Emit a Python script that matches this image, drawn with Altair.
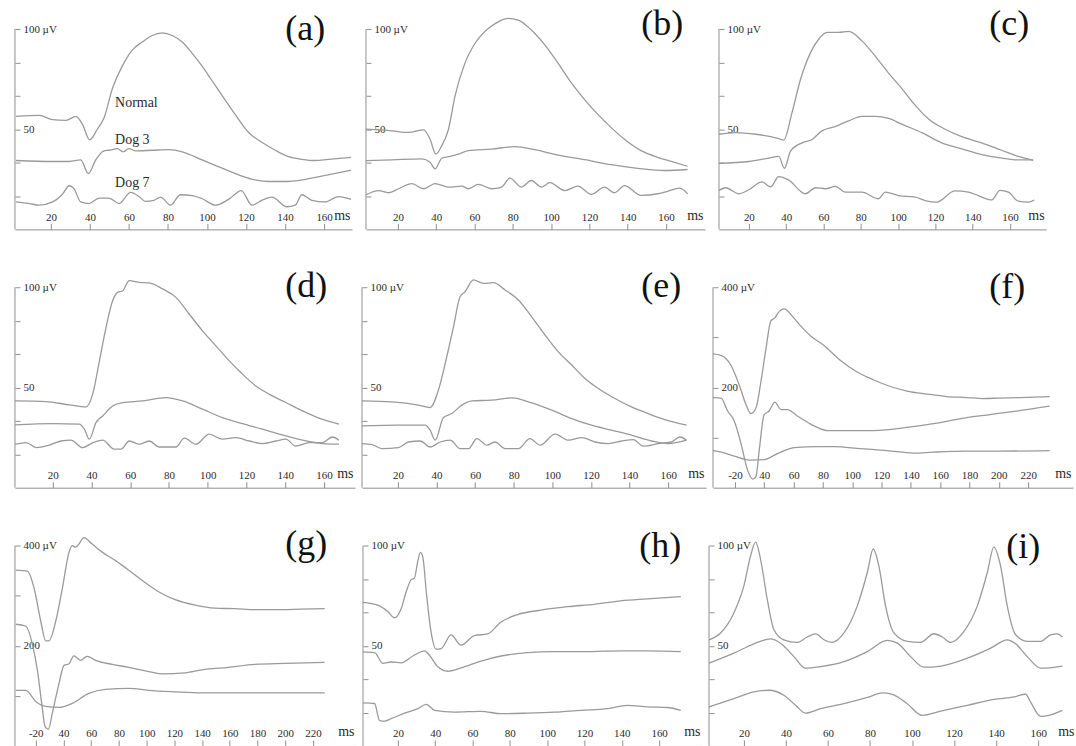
import altair as alt
import pandas as pd

# ---------------- data: (ms, µV) ----------------
a_normal = [(2.1,56.4),(14,56.9),(20.9,54.8),(27.7,54.4),(32.8,56.4),(36.2,52.4),(39.9,44.7),(43.8,50),(47.2,55.6),
            (51.5,70.2),(56.6,81.5),(61.7,89.5),(66.8,93.5),(71.9,96.8),(77.1,98.1),(82.2,96.8),(87.3,93.5),(92.4,87.9),
            (97.5,81.5),(102.6,74.2),(107.7,66.9),(114.5,57.3),(121.3,48.4),(128.1,43.5),(135,39.5),(141.8,36.3),
            (148.6,35),(155.4,34.4),(162.2,35),(173.8,36)]
a_dog3 = [(2.1,34.4),(20.9,33.9),(29.4,33.9),(35.3,34.7),(39.2,27.9),(43,34.7),(47.2,39.2),(49.8,39.5),(54.1,40.3),
          (57,38.7),(60,40.3),(63.4,39.2),(71.9,39.5),(80.5,39.8),(87.3,38.7),(97.5,34.7),(107.7,30.6),(117.9,26.6),
          (124.7,24.7),(131.5,23.9),(140,23.9),(148.6,24.7),(158.8,26.6),(173.8,29.5)]
a_dog7 = [(2.1,13.7),(9,12.9),(14,12.1),(20.9,13.7),(26,17.7),(29.4,21.8),(31.9,20.2),(35.3,13.7),(39.6,12.9),
          (44.7,15.6),(49.8,15.6),(54.9,12.9),(60.9,18.5),(65.1,16.4),(68.5,14),(72.8,14.5),(76.2,16.1),(81.3,12.1),
          (86.4,17.3),(92.4,16.9),(97.5,15.3),(104.3,12.1),(111.1,15),(117.6,19.4),(123,12.1),(128.1,14.5),
          (133.3,16.1),(140.9,11.3),(145.2,12.1),(148.6,17.3),(153.7,14.5),(160.5,13.7),(167.3,16.4),(173.8,15)]

b_normal = [(3.3,50),(16.9,49.2),(25.6,48.4),(33.4,49.7),(36.8,45),(39.8,37.6),(42.9,41.8),(46.4,50),(49.8,66.5),
            (55,83),(60.3,92.9),(67.2,100.3),(72.4,103.6),(77.6,105.3),(82.8,104.5),(89.7,99.5),(96.7,92.1),
            (103.6,83),(110.6,73.1),(117.5,64.8),(124.4,57.4),(131.4,50.8),(138.3,45),(147,39.3),(155.7,36),
            (164.4,33.5),(171.3,31.5)]
b_dog3 = [(3.3,34.3),(16.9,34.7),(32.5,35.2),(36.8,33.5),(39.4,30.2),(42.9,35.5),(46.4,36.3),(51.6,37.6),(56.8,39.3),
          (68.9,40.1),(81.1,41.3),(91.5,39.8),(103.6,37.1),(117.5,34.8),(131.4,32.3),(145.3,30.5),(159.1,29.4),
          (171.3,29.9)]
b_dog7 = [(3.3,17.3),(9.9,19.4),(15.1,18.3),(20.3,20.3),(27.3,22.8),(33.4,20.3),(39.4,22.8),(46.4,21.1),(53.3,21.6),
          (56.8,20.3),(62,22.5),(68.9,20.3),(74.1,21.1),(78.5,25.6),(84.5,21.1),(89.7,24.4),(94.9,21.1),(99.3,23.3),
          (107.1,19.4),(114,21.6),(121,17.5),(127.9,21.1),(133.1,18.3),(138.3,21.9),(147,17),(155.7,17.8),
          (160.9,19),(167,20.6),(171.3,17.8)]

c_normal = [(4,47.5),(12.9,48.3),(23.6,47.5),(36,45.3),(38.7,44.6),(43.2,58.5),(47.6,74.6),(53,88.1),(57.4,94.9),
            (61.9,98.3),(68.1,98.3),(73.5,98.8),(80.6,94.1),(87.8,86.4),(94.9,78),(102,70.3),(109.2,61.9),
            (116.3,55.1),(125.2,50),(134.1,46.3),(144.8,43.2),(155.5,39.5),(164.4,36.4),(172.4,34.4)]
c_dog3 = [(4,33),(20,33.9),(30.7,35.6),(36,36.4),(39.1,30.5),(42.3,39),(48.5,43.2),(53.9,44.9),(59.2,49.2),
          (66.4,51.4),(73.5,54.2),(80.6,56.4),(87.8,56.4),(94.9,55.4),(102,52.5),(112.7,48.3),(123.4,43.2),
          (134.1,40.2),(144.8,37.3),(155.5,35.6),(164.4,34.7),(172.4,34.7)]
c_dog7 = [(4,19.5),(7.5,20.8),(14.7,17.8),(20,19.8),(27.1,23.7),(31.6,21.2),(36,26.3),(41.4,24.6),(50.3,17.8),
          (55.7,20.8),(61,20.3),(66.4,21.5),(71.7,18.6),(80.6,18.6),(89.5,15.3),(93.1,18.6),(100.2,16.9),
          (109.2,16.1),(114.5,14.4),(120.7,13.6),(130.5,19.2),(137.7,18.6),(143,16.9),(150.2,14.7),(154.6,19.5),
          (159.1,18.6),(164.4,14.1),(169.8,13.6),(173,14.7)]

d_normal = [(0.6,43.3),(16.6,43),(28.6,41.3),(37.2,40.3),(40.6,46.7),(44.1,63.3),(47.5,80),(50.9,93.3),(53.5,97.5),
            (56.1,98.3),(59.5,103.3),(64.7,102.5),(69.8,102.2),(76.7,99.2),(83.6,95),(90.4,86.7),(97.3,78.3),
            (104.2,70.8),(111.1,63.3),(117.9,56.7),(124.8,50.8),(131.7,46.7),(140.3,42.5),(148.9,38.3),
            (157.4,34.7),(167.7,31.7)]
d_dog3 = [(0.6,31.3),(20,32),(33.7,31.7),(36.3,29.2),(38.9,24.2),(42.3,32.5),(45.8,35.8),(50.9,40.8),(56.1,42.5),
          (66.4,43.3),(78.4,45),(87,43.3),(97.3,39.2),(107.6,35),(117.9,32),(128.2,29.2),(138.5,26.3),(148.9,23.7),
          (159.2,22),(167.7,21.7)]
d_dog7 = [(0.6,21.7),(6.3,22.5),(11.4,20),(18.3,21.3),(24.3,23.3),(29.4,23.7),(35.5,20),(39.8,22),(45.8,23.7),
          (51.8,19.2),(55.2,19.2),(59.5,23.3),(64.7,21.7),(69.8,23.3),(75,20.3),(83.6,20.3),(87.9,24.7),(93.9,21.7),
          (100.7,26.7),(107.6,24.2),(114.5,25),(121.4,23.3),(128.2,22),(135.1,23.3),(140.3,24.2),(145.4,20.8),
          (152.3,22.5),(159.2,22.5),(164.3,25.3),(167.7,23.7)]

e_normal = [(1.4,43.3),(16.9,42.8),(30.7,41.2),(36.7,40),(41,48.7),(45.3,65.3),(48.8,80.3),(52.2,95.3),(54.8,97.8),
            (59.1,103.7),(64.3,102),(69.5,102.3),(75.5,98.7),(82.4,93.7),(89.3,85.3),(96.2,76.2),(103.1,67.8),
            (110,61.2),(116.9,54.5),(123.8,49.5),(132.4,44.5),(141,40.3),(149.6,37),(158.3,34),(169.5,31.2)]
e_dog3 = [(1.4,30.8),(20.3,31.2),(34.1,31.2),(36.7,28.7),(39.3,23.7),(43.6,35),(47.9,37),(53.1,41.2),(58.3,43.3),
          (68.6,43.7),(79,44.8),(89.3,42.3),(99.7,38.7),(110,34.5),(120.3,31.2),(130.7,28.7),(141,26.2),
          (151.4,23.3),(160,22),(169.5,23.7)]
e_dog7 = [(1.4,22),(6.6,21.5),(11.7,19.5),(20.3,20),(25.5,22.8),(31.6,23.3),(36.7,20.3),(41.9,22.8),(47.1,23.7),
          (52.2,19.5),(56.6,19.5),(60.9,24.5),(66,21.2),(70.3,22.8),(75.5,19.5),(82.4,19.5),(88.4,24.5),(93.6,21.2),
          (101.4,26.7),(108.3,23.7),(115.2,25),(122.1,22.8),(129,22),(135.9,23.3),(141.9,24),(147.1,20.7),
          (154.8,22),(161.7,22.8),(166,25.3),(169.5,23.7)]

f_normal = [(5,267),(10.5,264),(17.3,244),(22.9,205),(27.5,166),(30.9,148),(34.3,159),(37.7,212),(41.1,277),
            (44.5,333),(47.2,339),(49.4,349),(53.5,357),(59.2,342),(64.8,323),(71.6,303),(80.7,284),(92,254),
            (103.3,231),(114.7,215),(126,202),(137.3,193),(150.9,187),(164.5,182),(178.1,180),(189.4,178),
            (200.7,179),(214.3,180),(234.7,182)]
f_dog3 = [(5,180),(10.5,179),(15,153),(19.5,133),(24.1,88),(28.6,35),(32,17),(34.3,22),(36.5,74),(39.9,146),
          (43.3,153),(47.2,171),(51.3,156),(55.8,156),(62.6,143),(71.6,127),(83,114),(94.3,114),(110.1,114),
          (128.3,117),(144.1,123),(160,130),(178.1,140),(193.9,146),(212.1,153),(234.7,163)]
f_dog7 = [(5,74),(10.5,71),(19.5,63),(30.9,55),(39.9,56),(49,68),(60.3,80),(76.2,82),(87.5,82),(105.6,78),
          (123.7,74),(141.9,69),(155.4,71),(178.1,73),(200.7,73),(234.7,74)]

g_normal = [(5.6,351),(14,349),(18.8,315),(23.6,249),(27.2,210),(29.6,210),(34.4,249),(39.2,315),(44,387),(46.3,400),
            (48.7,397),(51.1,403),(54.7,416),(60.7,403),(67.9,387),(77.5,370),(87.1,351),(96.6,331),(108.6,308),
            (120.6,292),(135,281),(149.3,275),(163.7,274),(178.1,272),(192.4,272),(211.6,273),(228.4,274)]
g_dog3 = [(5.6,243),(12.8,239),(17.6,203),(21.2,151),(24.3,85),(26.7,39),(29.1,33),(32,66),(36.8,125),(40.4,161),
          (44,164),(47.5,180),(52.3,171),(57.1,179),(63.1,171),(75.1,163),(87.1,157),(99,150),(111,144),
          (127.8,146),(139.8,152),(158.9,157),(178.1,163),(199.6,165),(228.4,167)]
g_dog7 = [(5.6,111),(12.8,111),(20,89),(27.2,79),(36.8,77),(46.3,85),(58.3,105),(70.3,113),(87.1,115),(101.4,111),
          (120.6,108),(139.8,106),(163.7,106),(187.7,106),(228.4,106)]

h_normal = [(1.3,71.7),(9.3,70.3),(14.7,67),(18.2,63.9),(21.8,68.6),(24.5,77.1),(27.1,83),(28.9,83.9),(30.7,92.4),
            (32.1,96.6),(33.4,94.1),(35.2,77.1),(37.8,56.8),(40.5,48.3),(43.2,48.6),(48.5,55.4),(53.9,50.3),
            (61,55.1),(68.1,55.9),(75.3,61.9),(84.2,65.6),(96.7,67.8),(110.9,69.5),(125.2,70.7),(139.5,72.4),
            (153.7,73.4),(171.6,74.6)]
h_dog3 = [(1.3,47),(7.5,46.6),(12,41.2),(16.4,41.9),(21.8,41.5),(28,44.9),(34.3,47.5),(36.9,45.3),(41.4,39.5),
          (46.7,37.3),(53.9,39),(64.6,42.4),(75.3,44.9),(89.5,46.6),(103.8,47.1),(121.6,47.1),(139.5,47.5),
          (153.7,47.5),(171.6,47.1)]
h_dog7 = [(1.3,21.5),(7.5,21.2),(10.2,12.7),(12.9,12.4),(16.4,13.6),(23.6,16.4),(30.7,18.6),(35.2,20.8),(39.6,17.8),
          (50.3,16.9),(64.6,17.3),(75.3,16.1),(89.5,16.4),(103.8,16.9),(118.1,17.8),(132.3,18.6),(143,20.3),
          (153.7,19.5),(164.4,19.2),(171.6,17.8)]

i_normal = [(3.4,53),(8.9,56.4),(15.2,66.4),(20,79.9),(23.2,95),(25.6,101.7),(27.9,93.3),(31.1,73.2),(34.3,58),
            (39,53),(45.4,51.7),(50.1,54.4),(54.1,55.9),(58.1,53),(62,51.7),(67.6,56.4),(73.9,69.8),(78.7,86.6),
            (81.5,98.3),(84.2,89.9),(87.4,69.8),(91.4,56.4),(97.7,52.2),(104.1,51.7),(110.4,56),(114.4,54.4),
            (118.3,51.7),(124.7,57.2),(131,69.8),(135.8,86.6),(138.9,99.2),(142.1,89.9),(145.3,69.8),(149.3,55.5),
            (154.8,52.2),(161.2,52.2),(165.9,55.5),(169.1,55.9),(171.5,54.4)]
i_dog3 = [(3.4,41.3),(15.2,46.3),(24.8,51),(32.7,53.4),(37.4,51.3),(43.8,44.6),(49.3,38.8),(56.5,39.6),(67.6,42.1),
          (78.7,47.1),(88.2,52.7),(93,51.3),(99.3,44.6),(105.6,39.3),(113.6,39.9),(126.3,43.8),(137.4,48.8),
          (145.3,53),(149.3,51),(154.8,44.6),(161.2,38.8),(171.5,39.9)]
i_dog7 = [(3.4,19.5),(15.2,23.6),(24.8,27),(31.9,27.8),(39,25.3),(44.6,20.3),(49.3,16.4),(56.5,18.6),(67.6,21.1),
          (78.7,24.2),(85.8,26.5),(90.6,25.8),(97.7,21.1),(104.8,15.3),(113.6,17.4),(126.3,20.3),(139,23.2),
          (148.5,24.5),(154,25.8),(156.4,21.9),(161.2,14.8),(165.1,15.3),(171.5,17.8)]

trace_names = ["Normal", "Dog 3", "Dog 7"]
a_notes = [("Normal", 52.9, 62.9), ("Dog 3", 52.9, 44.4), ("Dog 7", 52.9, 23.4)]
ticks_short = [20, 40, 60, 80, 100, 120, 140, 160]
ticks_long = [20, 40, 60, 80, 100, 120, 140, 160, 180, 200, 220]

# ---------------- styling ----------------
LINE = "#9a9a9a"
AXC = "#8f8f8f"
TXT = "#2a2a2a"
SERIF = "Liberation Serif"
H = 221          # plot height: full scale = 1.1 x top tick value


def panel(tag, traces, xdom, width, top, xticks, tdx, tdy, neg20=False, notes=None):
    rows = []
    for name, pts in zip(trace_names, traces):
        for i, (t, v) in enumerate(pts):
            rows.append({"trace": name, "t": t, "v": v, "i": i})
    df = pd.DataFrame(rows)
    ymax = top * 1.1
    if top == 100:
        yvals = [50 / 3, 100 / 3, 50, 200 / 3, 250 / 3, 100]
        ylab = "datum.value > 99 ? '100 µV' : (abs(datum.value - 50) < 0.5 ? '50' : '')"
    else:
        yvals = [100, 200, 300, 400]
        ylab = "datum.value > 399 ? '400 µV' : (datum.value == 200 ? '200' : '')"
    xlab = "datum.value == 20 ? '-20' : datum.label" if neg20 else "datum.label"
    xsc = alt.Scale(domain=xdom, nice=False, zero=False)
    ysc = alt.Scale(domain=[0, ymax], nice=False, zero=False)
    xax = alt.Axis(orient="top", offset=-H, values=xticks, labelExpr=xlab, grid=False,
                   tickSize=6, labelPadding=1, labelFont=SERIF, labelFontSize=11, labelColor=TXT,
                   labelFlush=False, labelOverlap=False, domainColor=AXC, tickColor=AXC,
                   title="ms", titleX=width - 2, titleY=-7, titleAlign="right",
                   titleBaseline="bottom", titleAngle=0, titleFont=SERIF, titleFontSize=14,
                   titleFontWeight="normal", titleColor=TXT, titlePadding=0)
    yax = alt.Axis(orient="right", offset=-width, values=yvals, labelExpr=ylab, grid=False,
                   domain=False, tickSize=5, labelPadding=3, labelFont=SERIF, labelFontSize=11,
                   labelColor=TXT, labelFlush=False, labelOverlap=False, tickColor=AXC, title=None)
    x = alt.X("t:Q", scale=xsc, axis=xax)
    y = alt.Y("v:Q", scale=ysc, axis=yax)

    lines = alt.Chart(df).mark_line(color=LINE, strokeWidth=1.3, clip=False, interpolate="monotone").encode(
        x=x, y=y, detail="trace:N", order="i:Q")
    # left axis line from 0 to the top tick
    adf = pd.DataFrame({"t": [xdom[0]], "v": [0], "v2": [top]})
    yaxis_line = alt.Chart(adf).mark_rule(color=AXC, strokeWidth=1).encode(x=x, y=y, y2="v2:Q")
    # panel tag in the upper right corner
    tdf = pd.DataFrame({"t": [xdom[1]], "v": [ymax], "label": [tag]})
    tag_text = alt.Chart(tdf).mark_text(align="right", baseline="bottom", font=SERIF, fontSize=36,
                                        color="#111111", dx=tdx, dy=tdy).encode(x=x, y=y, text="label:N")
    layers = [lines, yaxis_line, tag_text]
    if notes:
        ndf = pd.DataFrame([{"label": l, "t": t, "v": v} for l, t, v in notes])
        layers.append(alt.Chart(ndf).mark_text(align="left", baseline="middle", font=SERIF, fontSize=14,
                                                color=TXT).encode(x=x, y=y, text="label:N"))
    return alt.layer(*layers).properties(width=width, height=H)


pa = panel("(a)", [a_normal, a_dog3, a_dog7], [1.6, 174.3], 338, 100, ticks_short, -27, 39, notes=a_notes)
pb = panel("(b)", [b_normal, b_dog3, b_dog7], [3.3, 180.4], 340, 100, ticks_short, -22, 34)
pc = panel("(c)", [c_normal, c_dog3, c_dog7], [4, 179.3], 328, 100, ticks_short, -17, 34)
pd_ = panel("(d)", [d_normal, d_dog3, d_dog7], [0.5, 176], 341, 100, ticks_short, -28, 38)
pe = panel("(e)", [e_normal, e_dog3, e_dog7], [1.4, 179.6], 345, 100, ticks_short, -25, 38)
pf = panel("(f)", [f_normal, f_dog3, f_dog7], [5, 250.6], 361, 400, ticks_long, -48, 39, neg20=True)
pg = panel("(g)", [g_normal, g_dog3, g_dog7], [5, 251], 342, 400, ticks_long, -29, 38, neg20=True)
ph = panel("(h)", [h_normal, h_dog3, h_dog7], [1.3, 183], 340, 100, ticks_short, -21, 40)
pi = panel("(i)", [i_normal, i_dog3, i_dog7], [3.4, 178], 368, 100, ticks_short, -36, 41)

row1 = alt.hconcat(pa, pb, pc, spacing=14, bounds="flush")
row2 = alt.hconcat(pd_, pe, pf, spacing=7, bounds="flush")
row3 = alt.hconcat(pg, ph, pi, spacing=7, bounds="flush")

chart = alt.vconcat(row1, row2, row3, spacing=37).properties(
    padding={"left": 12, "top": 5, "right": 0, "bottom": 0},
    background="white"
).configure_view(stroke=None)

chart.save("out.html", embed_options={"renderer": "svg", "actions": False})
